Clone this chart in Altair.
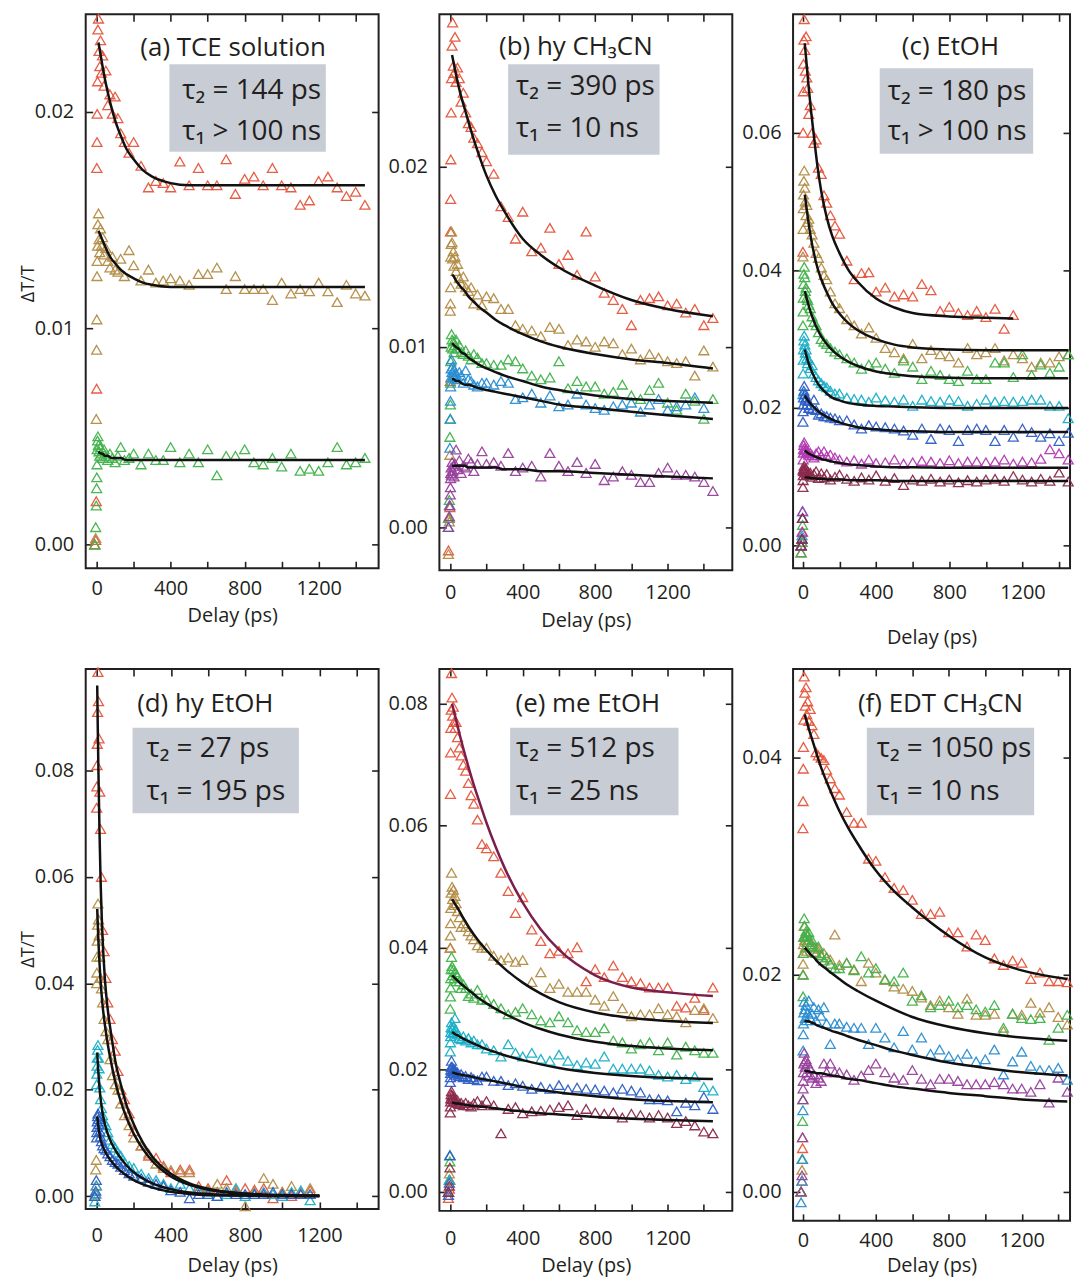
import altair as alt
import pandas as pd

FONT = "Open Sans"
INK = "#231f20"

# ---------------- shared delay grids (ps) ----------------
TIME = [-10, -5, -2, 0, 1, 2, 3, 5, 7, 10, 13, 17, 21, 26, 32, 40, 50, 60, 72, 85, 100, 115, 130, 150, 175,
        200, 240, 280, 320, 360, 400, 450, 500, 550, 600, 650, 700, 750, 800, 850, 900, 950, 1000,
        1050, 1100, 1150, 1200, 1250, 1300, 1350, 1400, 1450]
FIT_T = [10, 20, 30, 45, 60, 80, 100, 130, 160, 200, 250, 300, 400, 500, 600, 800, 1000, 1200, 1450]
FIT_T_C = [10, 20, 30, 45, 60, 80, 100, 130, 160, 200, 250, 300, 400, 500, 600, 800, 1000, 1150, 1450]
FIT_T_D = [3, 6, 10, 15, 20, 30, 45, 60, 80, 100, 130, 160, 200, 250, 300, 400, 500, 600, 800, 1000, 1200]
X_LABELS = [0, 400, 800, 1200]
X_TICKS = [0, 200, 400, 600, 800, 1000, 1200, 1400]

# ---------------- (a) TCE solution ----------------
A_RED = [0.0000, 0.0002, 0.0020, 0.0072, 0.0174, 0.0186, 0.0199, 0.0214, 0.0238, 0.0243, 0.0228, 0.0221, 0.0233, 0.0218, 0.0226, 0.0212, 0.0219, 0.0203, 0.0208, 0.0199, 0.0207, 0.0197, 0.0190, 0.0186, 0.0181] + \
        [0.0186, 0.0175, 0.0165, 0.0168, 0.0167, 0.0165, 0.0177, 0.0166, 0.0174, 0.0166, 0.0166, 0.0178, 0.0162, 0.0169, 0.0170, 0.0166, 0.0174, 0.0166, 0.0165, 0.0157, 0.0159, 0.0168, 0.0170, 0.0165, 0.0161, 0.0163, 0.0157]
A_TAN = [0.0000, 0.0003, 0.0058, 0.0090, 0.0104, 0.0124, 0.0131, 0.0138, 0.0148, 0.0153, 0.0141, 0.0135, 0.0146, 0.0138, 0.0142, 0.0134, 0.0137, 0.0131, 0.0128, 0.0133, 0.0127, 0.0126, 0.0132, 0.0124, 0.0136] + \
        [0.0129, 0.0122, 0.0127, 0.0121, 0.0122, 0.0123, 0.0122, 0.0120, 0.0125, 0.0125, 0.0128, 0.0118, 0.0124, 0.0118, 0.0118, 0.0118, 0.0113, 0.0121, 0.0116, 0.0118, 0.0117, 0.0121, 0.0117, 0.0112, 0.0120, 0.0116, 0.0115]
A_GREEN = [0.0000, 0.0008, 0.0018, 0.0026, 0.0031, 0.0037, 0.0044, 0.0048, 0.0050, 0.0046, 0.0043, 0.0041, 0.0045, 0.0042, 0.0040, 0.0044, 0.0041, 0.0039, 0.0042, 0.0040, 0.0038, 0.0041, 0.0045, 0.0039, 0.0040] + \
          [0.0042, 0.0037, 0.0042, 0.0039, 0.0039, 0.0045, 0.0038, 0.0042, 0.0038, 0.0044, 0.0032, 0.0041, 0.0041, 0.0044, 0.0038, 0.0037, 0.0040, 0.0036, 0.0042, 0.0034, 0.0035, 0.0034, 0.0038, 0.0045, 0.0037, 0.0038, 0.0040]
A_FIT_RED = [0.0232, 0.0227, 0.0222, 0.0215, 0.0209, 0.0202, 0.0196, 0.0189, 0.0183, 0.0178, 0.0173, 0.0170, 0.0167, 0.0166, 0.0166, 0.0166, 0.0166, 0.0166, 0.0166]
A_FIT_TAN = [0.0145, 0.0143, 0.0141, 0.0138, 0.0135, 0.0132, 0.0130, 0.0127, 0.0125, 0.0123, 0.0121, 0.0120, 0.0119, 0.0119, 0.0119, 0.0119, 0.0119, 0.0119, 0.0119]
A_FIT_GREEN = [0.0043, 0.0042, 0.0042, 0.0041, 0.0041, 0.0040, 0.0040, 0.0040, 0.0039, 0.0039, 0.0039, 0.0039, 0.0039, 0.0039, 0.0039, 0.0039, 0.0039, 0.0039, 0.0039]

# ---------------- (b) hy CH3CN ----------------
B_RED = [-0.0013, 0.0005, 0.0011, 0.0081, 0.0164, 0.0182, 0.0204, 0.0230, 0.0249, 0.0267, 0.0280, 0.0256, 0.0252, 0.0272, 0.0247, 0.0255, 0.0249, 0.0236, 0.0241, 0.0230, 0.0224, 0.0222, 0.0216, 0.0213, 0.0208] + \
        [0.0203, 0.0196, 0.0178, 0.0172, 0.0160, 0.0175, 0.0153, 0.0155, 0.0166, 0.0146, 0.0151, 0.0140, 0.0164, 0.0139, 0.0130, 0.0126, 0.0121, 0.0112, 0.0126, 0.0127, 0.0128, 0.0123, 0.0124, 0.0119, 0.0121, 0.0112, 0.0116]
B_TAN = [-0.0015, 0.0003, 0.0040, 0.0120, 0.0124, 0.0133, 0.0150, 0.0157, 0.0164, 0.0158, 0.0149, 0.0153, 0.0145, 0.0150, 0.0142, 0.0146, 0.0138, 0.0135, 0.0139, 0.0133, 0.0131, 0.0133, 0.0124, 0.0129, 0.0123] + \
        [0.0128, 0.0127, 0.0121, 0.0121, 0.0112, 0.0110, 0.0109, 0.0106, 0.0111, 0.0110, 0.0101, 0.0104, 0.0103, 0.0100, 0.0103, 0.0102, 0.0096, 0.0099, 0.0093, 0.0096, 0.0094, 0.0092, 0.0091, 0.0092, 0.0084, 0.0098, 0.0089]
B_GREEN = [0.0005, 0.0015, 0.0050, 0.0060, 0.0068, 0.0080, 0.0092, 0.0100, 0.0107, 0.0104, 0.0099, 0.0103, 0.0097, 0.0101, 0.0104, 0.0099, 0.0101, 0.0097, 0.0096, 0.0098, 0.0095, 0.0093, 0.0096, 0.0094, 0.0091] + \
          [0.0091, 0.0090, 0.0090, 0.0093, 0.0092, 0.0088, 0.0084, 0.0082, 0.0083, 0.0092, 0.0077, 0.0081, 0.0078, 0.0078, 0.0074, 0.0075, 0.0079, 0.0073, 0.0071, 0.0076, 0.0080, 0.0069, 0.0065, 0.0074, 0.0070, 0.0060, 0.0071]
B_SKY = [0.0000, 0.0012, 0.0044, 0.0060, 0.0070, 0.0078, 0.0083, 0.0088, 0.0093, 0.0086, 0.0089, 0.0084, 0.0087, 0.0083, 0.0085, 0.0082, 0.0086, 0.0084, 0.0080, 0.0087, 0.0082, 0.0081, 0.0079, 0.0078, 0.0080] + \
        [0.0080, 0.0079, 0.0081, 0.0080, 0.0071, 0.0072, 0.0074, 0.0069, 0.0073, 0.0067, 0.0068, 0.0074, 0.0068, 0.0066, 0.0065, 0.0067, 0.0068, 0.0069, 0.0064, 0.0068, 0.0071, 0.0065, 0.0067, 0.0068, 0.0072, 0.0066]
B_PURPLE = [0.0000, 0.0006, 0.0012, 0.0018, 0.0022, 0.0027, 0.0030, 0.0033, 0.0029, 0.0036, 0.0031, 0.0034, 0.0028, 0.0035, 0.0043, 0.0032, 0.0037, 0.0030, 0.0034, 0.0033, 0.0038, 0.0036, 0.0031, 0.0035, 0.0042] + \
           [0.0035, 0.0036, 0.0034, 0.0041, 0.0031, 0.0033, 0.0034, 0.0028, 0.0041, 0.0034, 0.0031, 0.0036, 0.0030, 0.0035, 0.0026, 0.0028, 0.0031, 0.0029, 0.0025, 0.0025, 0.0030, 0.0033, 0.0029, 0.0029, 0.0028, 0.0025, 0.0020]
B_FIT_RED = [0.0262, 0.0257, 0.0252, 0.0245, 0.0239, 0.0232, 0.0225, 0.0215, 0.0206, 0.0195, 0.0184, 0.0175, 0.0160, 0.0151, 0.0144, 0.0134, 0.0126, 0.0121, 0.0117]
B_FIT_TAN = [0.0140, 0.0139, 0.0137, 0.0135, 0.0133, 0.0131, 0.0128, 0.0125, 0.0122, 0.0119, 0.0115, 0.0112, 0.0107, 0.0103, 0.0100, 0.0096, 0.0093, 0.0091, 0.0088]
B_FIT_GREEN = [0.0102, 0.0101, 0.0100, 0.0099, 0.0097, 0.0096, 0.0094, 0.0092, 0.0090, 0.0088, 0.0086, 0.0084, 0.0081, 0.0078, 0.0076, 0.0073, 0.0071, 0.0070, 0.0069]
B_FIT_SKY = [0.0082, 0.0082, 0.0081, 0.0081, 0.0080, 0.0079, 0.0079, 0.0078, 0.0077, 0.0076, 0.0075, 0.0074, 0.0072, 0.0070, 0.0068, 0.0066, 0.0064, 0.0062, 0.0060]
B_FIT_PURPLE = [0.0034, 0.0034, 0.0034, 0.0034, 0.0034, 0.0034, 0.0033, 0.0033, 0.0033, 0.0033, 0.0033, 0.0032, 0.0032, 0.0031, 0.0031, 0.0030, 0.0029, 0.0028, 0.0027]

# ---------------- (c) EtOH ----------------
C_RED = [-0.0010, 0.0005, 0.0020, 0.0427, 0.0600, 0.0660, 0.0700, 0.0735, 0.0765, 0.0720, 0.0690, 0.0740, 0.0680, 0.0665, 0.0627, 0.0640, 0.0600, 0.0585, 0.0590, 0.0549, 0.0540, 0.0509, 0.0498, 0.0480, 0.0465] + \
        [0.0453, 0.0414, 0.0387, 0.0396, 0.0397, 0.0369, 0.0375, 0.0362, 0.0365, 0.0362, 0.0380, 0.0371, 0.0341, 0.0347, 0.0338, 0.0335, 0.0341, 0.0332, 0.0344, 0.0315, 0.0335]
C_TAN = [0.0000, 0.0010, 0.0040, 0.0420, 0.0460, 0.0490, 0.0510, 0.0530, 0.0545, 0.0520, 0.0500, 0.0480, 0.0495, 0.0470, 0.0475, 0.0460, 0.0452, 0.0440, 0.0425, 0.0418, 0.0404, 0.0393, 0.0387, 0.0369, 0.0352] + \
        [0.0345, 0.0329, 0.0320, 0.0308, 0.0317, 0.0302, 0.0287, 0.0281, 0.0272, 0.0293, 0.0272, 0.0284, 0.0278, 0.0275, 0.0266, 0.0287, 0.0278, 0.0281, 0.0287, 0.0269, 0.0278, 0.0272, 0.0260, 0.0266, 0.0266, 0.0275, 0.0278]
C_GREEN = [-0.0010, 0.0005, 0.0030, 0.0320, 0.0340, 0.0360, 0.0380, 0.0395, 0.0405, 0.0390, 0.0370, 0.0375, 0.0360, 0.0357, 0.0350, 0.0345, 0.0333, 0.0325, 0.0320, 0.0310, 0.0300, 0.0296, 0.0293, 0.0287, 0.0282] + \
          [0.0278, 0.0272, 0.0266, 0.0257, 0.0263, 0.0266, 0.0257, 0.0251, 0.0269, 0.0260, 0.0242, 0.0254, 0.0248, 0.0242, 0.0239, 0.0254, 0.0242, 0.0242, 0.0266, 0.0266, 0.0245, 0.0278, 0.0248, 0.0263, 0.0251, 0.0260, 0.0278]
C_CYAN = [0.0000, 0.0015, 0.0050, 0.0220, 0.0250, 0.0270, 0.0285, 0.0298, 0.0305, 0.0292, 0.0280, 0.0285, 0.0272, 0.0265, 0.0270, 0.0258, 0.0262, 0.0250, 0.0245, 0.0240, 0.0236, 0.0232, 0.0230, 0.0225, 0.0221] + \
         [0.0221, 0.0215, 0.0213, 0.0212, 0.0209, 0.0215, 0.0211, 0.0209, 0.0212, 0.0203, 0.0212, 0.0210, 0.0209, 0.0212, 0.0210, 0.0203, 0.0206, 0.0212, 0.0209, 0.0210, 0.0209, 0.0210, 0.0212, 0.0212, 0.0203, 0.0203, 0.0185]
C_BLUE = [0.0000, 0.0010, 0.0040, 0.0180, 0.0195, 0.0205, 0.0215, 0.0225, 0.0232, 0.0220, 0.0212, 0.0215, 0.0205, 0.0210, 0.0200, 0.0204, 0.0198, 0.0212, 0.0197, 0.0190, 0.0192, 0.0188, 0.0188, 0.0186, 0.0185] + \
         [0.0182, 0.0182, 0.0176, 0.0170, 0.0175, 0.0173, 0.0172, 0.0170, 0.0167, 0.0161, 0.0170, 0.0155, 0.0170, 0.0168, 0.0152, 0.0168, 0.0170, 0.0168, 0.0152, 0.0168, 0.0158, 0.0170, 0.0165, 0.0158, 0.0163, 0.0152, 0.0164]
C_MAGENTA = [0.0000, 0.0020, 0.0050, 0.0110, 0.0125, 0.0135, 0.0140, 0.0146, 0.0150, 0.0142, 0.0138, 0.0140, 0.0134, 0.0137, 0.0132, 0.0135, 0.0131, 0.0128, 0.0134, 0.0137, 0.0131, 0.0137, 0.0130, 0.0132, 0.0128] + \
            [0.0125, 0.0122, 0.0124, 0.0119, 0.0125, 0.0120, 0.0121, 0.0125, 0.0119, 0.0121, 0.0123, 0.0122, 0.0120, 0.0124, 0.0120, 0.0122, 0.0122, 0.0121, 0.0122, 0.0125, 0.0119, 0.0122, 0.0121, 0.0126, 0.0140, 0.0134, 0.0125]
C_MAROON = [0.0000, 0.0010, 0.0040, 0.0085, 0.0095, 0.0102, 0.0108, 0.0112, 0.0116, 0.0110, 0.0106, 0.0112, 0.0104, 0.0108, 0.0102, 0.0106, 0.0100, 0.0104, 0.0108, 0.0098, 0.0105, 0.0099, 0.0104, 0.0096, 0.0100] + \
           [0.0103, 0.0097, 0.0094, 0.0099, 0.0096, 0.0102, 0.0094, 0.0098, 0.0088, 0.0096, 0.0094, 0.0097, 0.0093, 0.0096, 0.0092, 0.0095, 0.0093, 0.0096, 0.0097, 0.0094, 0.0101, 0.0096, 0.0093, 0.0097, 0.0094, 0.0106, 0.0093]
C_FIT_RED = [0.0730, 0.0700, 0.0670, 0.0630, 0.0595, 0.0550, 0.0515, 0.0477, 0.0450, 0.0425, 0.0400, 0.0383, 0.0359, 0.0346, 0.0338, 0.0333, 0.0331, 0.0330]
C_FIT_TAN = [0.0510, 0.0490, 0.0470, 0.0445, 0.0425, 0.0403, 0.0387, 0.0368, 0.0352, 0.0337, 0.0323, 0.0313, 0.0300, 0.0292, 0.0288, 0.0285, 0.0284, 0.0284, 0.0284]
C_FIT_GREEN = [0.0370, 0.0360, 0.0350, 0.0337, 0.0326, 0.0314, 0.0304, 0.0293, 0.0284, 0.0275, 0.0267, 0.0261, 0.0253, 0.0249, 0.0246, 0.0244, 0.0243, 0.0243, 0.0243]
C_FIT_CYAN = [0.0285, 0.0275, 0.0266, 0.0255, 0.0246, 0.0236, 0.0229, 0.0221, 0.0215, 0.0211, 0.0207, 0.0205, 0.0203, 0.0202, 0.0201, 0.0200, 0.0200, 0.0200, 0.0200]
C_FIT_BLUE = [0.0218, 0.0214, 0.0210, 0.0205, 0.0201, 0.0196, 0.0192, 0.0187, 0.0183, 0.0179, 0.0175, 0.0172, 0.0169, 0.0167, 0.0166, 0.0165, 0.0165, 0.0165, 0.0165]
C_FIT_MAGENTA = [0.0138, 0.0136, 0.0134, 0.0132, 0.0130, 0.0128, 0.0126, 0.0124, 0.0122, 0.0120, 0.0118, 0.0117, 0.0115, 0.0114, 0.0114, 0.0113, 0.0113, 0.0113, 0.0113]
C_FIT_MAROON = [0.0100, 0.0099, 0.0099, 0.0098, 0.0098, 0.0097, 0.0097, 0.0096, 0.0096, 0.0096, 0.0095, 0.0095, 0.0095, 0.0094, 0.0094, 0.0094, 0.0094, 0.0094, 0.0094]

# ---------------- (d) hy EtOH ----------------
D_RED = [0.0000, 0.0005, 0.0020, 0.0730, 0.0770, 0.0810, 0.0850, 0.0910, 0.0985, 0.0930, 0.0860, 0.0760, 0.0690, 0.0600, 0.0500, 0.0460, 0.0410, 0.0364, 0.0333, 0.0295, 0.0273, 0.0235, 0.0200, 0.0182, 0.0155] + \
        [0.0122, 0.0095, 0.0076, 0.0072, 0.0057, 0.0045, 0.0050, 0.0050, 0.0019, 0.0015, 0.0008, 0.0030, 0.0011, 0.0015, 0.0012, 0.0015, -0.0004, 0.0008, 0.0000, 0.0004, 0.0011]
D_TAN = [0.0000, 0.0050, 0.0068, 0.0400, 0.0420, 0.0450, 0.0480, 0.0510, 0.0550, 0.0520, 0.0490, 0.0450, 0.0410, 0.0390, 0.0364, 0.0333, 0.0310, 0.0295, 0.0257, 0.0227, 0.0210, 0.0200, 0.0174, 0.0152, 0.0133] + \
        [0.0110, 0.0095, 0.0080, 0.0061, 0.0053, 0.0049, 0.0045, 0.0045, 0.0011, 0.0011, 0.0023, 0.0015, 0.0008, -0.0019, 0.0008, 0.0034, 0.0023, 0.0008, 0.0019, 0.0008, 0.0015]
D_CYAN = [-0.0010, 0.0005, 0.0020, 0.0210, 0.0230, 0.0245, 0.0260, 0.0275, 0.0284, 0.0260, 0.0240, 0.0204, 0.0182, 0.0165, 0.0152, 0.0140, 0.0133, 0.0120, 0.0106, 0.0098, 0.0091, 0.0082, 0.0076, 0.0064, 0.0057] + \
         [0.0053, 0.0042, 0.0034, 0.0030, 0.0023, 0.0015, 0.0023, 0.0015, 0.0012, 0.0008, 0.0000, 0.0004, 0.0015, 0.0000, 0.0004, 0.0008, 0.0004, 0.0000, 0.0008, 0.0011, -0.0008]
D_BLUE = [0.0000, 0.0010, 0.0030, 0.0110, 0.0120, 0.0130, 0.0140, 0.0150, 0.0155, 0.0145, 0.0135, 0.0122, 0.0112, 0.0103, 0.0095, 0.0090, 0.0087, 0.0080, 0.0075, 0.0068, 0.0064, 0.0061, 0.0055, 0.0049, 0.0043] + \
         [0.0038, 0.0034, 0.0027, 0.0023, 0.0019, 0.0011, 0.0008, -0.0004, 0.0004, 0.0004, 0.0000, 0.0008, 0.0004, 0.0004, 0.0004, 0.0004, 0.0008, 0.0004, 0.0004, 0.0004, 0.0004]
D_FIT_RED = [0.0960, 0.0880, 0.0790, 0.0690, 0.0610, 0.0500, 0.0405, 0.0350, 0.0300, 0.0255, 0.0210, 0.0172, 0.0135, 0.0100, 0.0074, 0.0042, 0.0024, 0.0014, 0.0005, 0.0002, 0.0001]
D_FIT_TAN = [0.0540, 0.0510, 0.0475, 0.0440, 0.0410, 0.0365, 0.0320, 0.0285, 0.0248, 0.0215, 0.0178, 0.0148, 0.0117, 0.0088, 0.0066, 0.0037, 0.0021, 0.0012, 0.0004, 0.0001, 0.0000]
D_FIT_CYAN = [0.0270, 0.0250, 0.0228, 0.0205, 0.0187, 0.0160, 0.0134, 0.0117, 0.0100, 0.0087, 0.0071, 0.0058, 0.0045, 0.0033, 0.0024, 0.0013, 0.0007, 0.0004, 0.0001, 0.0000, 0.0000]
D_FIT_BLUE = [0.0150, 0.0140, 0.0128, 0.0117, 0.0108, 0.0096, 0.0084, 0.0075, 0.0065, 0.0057, 0.0047, 0.0039, 0.0030, 0.0022, 0.0016, 0.0008, 0.0004, 0.0002, 0.0001, 0.0000, 0.0000]

# ---------------- (e) me EtOH ----------------
E_RED = [-0.0010, 0.0005, 0.0020, 0.0400, 0.0652, 0.0720, 0.0760, 0.0790, 0.0850, 0.0810, 0.0780, 0.0795, 0.0770, 0.0760, 0.0770, 0.0745, 0.0728, 0.0715, 0.0700, 0.0690, 0.0670, 0.0650, 0.0636, 0.0610, 0.0570] + \
        [0.0563, 0.0550, 0.0523, 0.0493, 0.0457, 0.0483, 0.0430, 0.0411, 0.0391, 0.0395, 0.0391, 0.0401, 0.0345, 0.0365, 0.0352, 0.0371, 0.0352, 0.0345, 0.0342, 0.0335, 0.0335, 0.0335, 0.0305, 0.0302, 0.0318, 0.0298, 0.0335]
E_TAN = [0.0000, 0.0030, 0.0060, 0.0400, 0.0420, 0.0440, 0.0465, 0.0490, 0.0523, 0.0500, 0.0480, 0.0495, 0.0470, 0.0485, 0.0473, 0.0460, 0.0450, 0.0434, 0.0440, 0.0434, 0.0427, 0.0420, 0.0414, 0.0404, 0.0400] + \
        [0.0400, 0.0387, 0.0380, 0.0384, 0.0377, 0.0380, 0.0344, 0.0360, 0.0334, 0.0341, 0.0328, 0.0328, 0.0328, 0.0315, 0.0305, 0.0321, 0.0301, 0.0288, 0.0291, 0.0291, 0.0301, 0.0291, 0.0288, 0.0278, 0.0298, 0.0301, 0.0285]
E_GREEN = [0.0000, 0.0020, 0.0050, 0.0300, 0.0320, 0.0335, 0.0350, 0.0365, 0.0385, 0.0370, 0.0355, 0.0365, 0.0350, 0.0360, 0.0345, 0.0354, 0.0345, 0.0334, 0.0340, 0.0334, 0.0321, 0.0325, 0.0318, 0.0331, 0.0315] + \
          [0.0315, 0.0308, 0.0301, 0.0291, 0.0295, 0.0301, 0.0291, 0.0281, 0.0278, 0.0288, 0.0278, 0.0265, 0.0262, 0.0262, 0.0268, 0.0248, 0.0245, 0.0235, 0.0242, 0.0245, 0.0232, 0.0245, 0.0225, 0.0238, 0.0232, 0.0228, 0.0228]
E_CYAN = [0.0000, 0.0020, 0.0060, 0.0230, 0.0245, 0.0255, 0.0262, 0.0270, 0.0278, 0.0268, 0.0260, 0.0270, 0.0262, 0.0285, 0.0265, 0.0258, 0.0252, 0.0250, 0.0255, 0.0248, 0.0252, 0.0245, 0.0248, 0.0242, 0.0242] + \
         [0.0235, 0.0232, 0.0222, 0.0242, 0.0228, 0.0222, 0.0228, 0.0218, 0.0215, 0.0225, 0.0215, 0.0208, 0.0212, 0.0210, 0.0222, 0.0202, 0.0202, 0.0202, 0.0202, 0.0199, 0.0192, 0.0189, 0.0192, 0.0185, 0.0189, 0.0172, 0.0166]
E_BLUE = [-0.0005, 0.0015, 0.0060, 0.0180, 0.0188, 0.0195, 0.0200, 0.0205, 0.0215, 0.0205, 0.0198, 0.0202, 0.0195, 0.0200, 0.0192, 0.0196, 0.0190, 0.0193, 0.0188, 0.0190, 0.0185, 0.0188, 0.0185, 0.0183, 0.0189] + \
         [0.0189, 0.0182, 0.0182, 0.0175, 0.0178, 0.0174, 0.0169, 0.0172, 0.0169, 0.0175, 0.0168, 0.0171, 0.0169, 0.0168, 0.0166, 0.0163, 0.0169, 0.0166, 0.0163, 0.0152, 0.0152, 0.0150, 0.0132, 0.0146, 0.0142, 0.0156, 0.0136]
E_MAROON = [0.0000, 0.0010, 0.0040, 0.0130, 0.0140, 0.0148, 0.0153, 0.0160, 0.0165, 0.0158, 0.0152, 0.0156, 0.0148, 0.0152, 0.0146, 0.0150, 0.0144, 0.0146, 0.0142, 0.0146, 0.0142, 0.0140, 0.0145, 0.0149, 0.0142] + \
           [0.0149, 0.0142, 0.0096, 0.0136, 0.0139, 0.0129, 0.0132, 0.0133, 0.0135, 0.0139, 0.0142, 0.0126, 0.0136, 0.0130, 0.0128, 0.0130, 0.0122, 0.0128, 0.0126, 0.0122, 0.0126, 0.0122, 0.0113, 0.0116, 0.0109, 0.0099, 0.0096]
E_FIT_RED = [0.0800, 0.0788, 0.0776, 0.0758, 0.0740, 0.0718, 0.0697, 0.0667, 0.0640, 0.0605, 0.0566, 0.0531, 0.0474, 0.0430, 0.0397, 0.0355, 0.0335, 0.0327, 0.0321]
E_FIT_TAN = [0.0480, 0.0475, 0.0470, 0.0463, 0.0455, 0.0445, 0.0435, 0.0422, 0.0410, 0.0396, 0.0380, 0.0366, 0.0343, 0.0325, 0.0311, 0.0294, 0.0285, 0.0280, 0.0277]
E_FIT_GREEN = [0.0355, 0.0352, 0.0349, 0.0345, 0.0341, 0.0336, 0.0331, 0.0324, 0.0317, 0.0309, 0.0300, 0.0292, 0.0278, 0.0267, 0.0258, 0.0246, 0.0239, 0.0235, 0.0232]
E_FIT_CYAN = [0.0262, 0.0260, 0.0258, 0.0256, 0.0253, 0.0250, 0.0247, 0.0243, 0.0239, 0.0234, 0.0229, 0.0224, 0.0216, 0.0209, 0.0203, 0.0195, 0.0190, 0.0187, 0.0185]
E_FIT_BLUE = [0.0196, 0.0195, 0.0194, 0.0193, 0.0192, 0.0191, 0.0190, 0.0188, 0.0186, 0.0184, 0.0181, 0.0178, 0.0172, 0.0167, 0.0163, 0.0157, 0.0152, 0.0149, 0.0147]
E_FIT_MAROON = [0.0146, 0.0146, 0.0145, 0.0145, 0.0144, 0.0143, 0.0142, 0.0141, 0.0140, 0.0139, 0.0137, 0.0135, 0.0132, 0.0129, 0.0127, 0.0123, 0.0120, 0.0118, 0.0116]

# ---------------- (f) EDT CH3CN ----------------
F_RED = [0.0000, 0.0010, 0.0040, 0.0335, 0.0360, 0.0390, 0.0410, 0.0435, 0.0475, 0.0460, 0.0448, 0.0465, 0.0440, 0.0452, 0.0434, 0.0445, 0.0430, 0.0422, 0.0405, 0.0402, 0.0400, 0.0398, 0.0389, 0.0381, 0.0372] + \
        [0.0366, 0.0350, 0.0340, 0.0340, 0.0307, 0.0305, 0.0290, 0.0280, 0.0278, 0.0269, 0.0256, 0.0256, 0.0258, 0.0239, 0.0239, 0.0226, 0.0237, 0.0232, 0.0215, 0.0209, 0.0213, 0.0211, 0.0196, 0.0202, 0.0194, 0.0194, 0.0193]
F_TAN = [0.0000, 0.0020, 0.0050, 0.0200, 0.0210, 0.0220, 0.0228, 0.0235, 0.0245, 0.0232, 0.0225, 0.0238, 0.0222, 0.0230, 0.0232, 0.0226, 0.0228, 0.0221, 0.0225, 0.0224, 0.0218, 0.0220, 0.0216, 0.0214, 0.0237] + \
        [0.0209, 0.0211, 0.0205, 0.0194, 0.0211, 0.0202, 0.0195, 0.0189, 0.0187, 0.0185, 0.0179, 0.0172, 0.0176, 0.0170, 0.0164, 0.0178, 0.0163, 0.0163, 0.0164, 0.0148, 0.0164, 0.0163, 0.0174, 0.0165, 0.0170, 0.0161, 0.0154]
F_GREEN = [0.0000, 0.0030, 0.0065, 0.0085, 0.0180, 0.0200, 0.0220, 0.0235, 0.0252, 0.0245, 0.0235, 0.0240, 0.0230, 0.0236, 0.0239, 0.0228, 0.0232, 0.0226, 0.0220, 0.0226, 0.0218, 0.0213, 0.0216, 0.0210, 0.0206] + \
          [0.0206, 0.0211, 0.0204, 0.0217, 0.0202, 0.0206, 0.0196, 0.0194, 0.0202, 0.0176, 0.0181, 0.0170, 0.0172, 0.0176, 0.0170, 0.0172, 0.0168, 0.0166, 0.0172, 0.0151, 0.0164, 0.0160, 0.0159, 0.0160, 0.0140, 0.0151, 0.0163]
F_SKY = [-0.0010, 0.0010, 0.0030, 0.0075, 0.0130, 0.0145, 0.0155, 0.0165, 0.0175, 0.0168, 0.0160, 0.0172, 0.0158, 0.0165, 0.0176, 0.0160, 0.0164, 0.0170, 0.0158, 0.0168, 0.0162, 0.0170, 0.0155, 0.0136, 0.0155] + \
        [0.0155, 0.0152, 0.0151, 0.0151, 0.0136, 0.0151, 0.0142, 0.0133, 0.0148, 0.0131, 0.0142, 0.0127, 0.0131, 0.0125, 0.0122, 0.0127, 0.0120, 0.0122, 0.0131, 0.0108, 0.0120, 0.0129, 0.0116, 0.0112, 0.0112, 0.0114, 0.0103]
F_PURPLE = [0.0000, 0.0015, 0.0050, 0.0085, 0.0095, 0.0102, 0.0110, 0.0118, 0.0128, 0.0120, 0.0115, 0.0122, 0.0110, 0.0118, 0.0107, 0.0113, 0.0105, 0.0108, 0.0100, 0.0105, 0.0102, 0.0118, 0.0110, 0.0118, 0.0110] + \
           [0.0110, 0.0108, 0.0103, 0.0107, 0.0112, 0.0118, 0.0110, 0.0105, 0.0103, 0.0112, 0.0104, 0.0099, 0.0104, 0.0104, 0.0102, 0.0099, 0.0099, 0.0099, 0.0101, 0.0099, 0.0095, 0.0095, 0.0092, 0.0099, 0.0082, 0.0105, 0.0092]
F_FIT_RED = [0.0440, 0.0434, 0.0428, 0.0420, 0.0412, 0.0401, 0.0391, 0.0378, 0.0366, 0.0351, 0.0335, 0.0321, 0.0296, 0.0277, 0.0262, 0.0236, 0.0216, 0.0204, 0.0196]
F_FIT_TAN = [0.0225, 0.0223, 0.0221, 0.0218, 0.0216, 0.0212, 0.0209, 0.0205, 0.0201, 0.0196, 0.0190, 0.0185, 0.0176, 0.0168, 0.0161, 0.0152, 0.0146, 0.0142, 0.0139]
F_FIT_SKY = [0.0158, 0.0157, 0.0157, 0.0156, 0.0155, 0.0153, 0.0152, 0.0150, 0.0148, 0.0146, 0.0143, 0.0140, 0.0135, 0.0130, 0.0126, 0.0119, 0.0114, 0.0110, 0.0107]
F_FIT_PURPLE = [0.0112, 0.0111, 0.0111, 0.0110, 0.0110, 0.0109, 0.0109, 0.0108, 0.0107, 0.0106, 0.0104, 0.0103, 0.0100, 0.0097, 0.0095, 0.0091, 0.0088, 0.0085, 0.0083]

# ---------------- styling ----------------
COLORS = {
    "red": "#e5563c", "tan": "#b38d45", "green": "#41b34b", "sky": "#2a8ed2",
    "purple": "#97409d", "cyan": "#1aafc7", "blue": "#2d5ec6", "magenta": "#b23ab3",
    "maroon": "#8b2a4c",
}
FIT_BLACK = "#111111"
FIT_MAROON = "#7a1e4c"
BOX_GREY = "#c8ccd4"

PANELS = [
    dict(title="(a) TCE solution", t2="τ₂ = 144 ps", t1="τ₁ > 100 ns",
         series=[("red", A_RED), ("tan", A_TAN), ("green", A_GREEN)],
         fits=[(FIT_BLACK, A_FIT_RED), (FIT_BLACK, A_FIT_TAN), (FIT_BLACK, A_FIT_GREEN)], fit_t=FIT_T,
         w=294, h=556, xdom=[-59, 1524], ydom=[-0.0011, 0.0245], yticks=[0.0, 0.01, 0.02],
         xlp=10.5, xty=47, ytitle=True, yty=270,
         tx=148, ty=34, box=(84, 241, 50, 138), bx=97, by=(77, 118)),
    dict(title="(b) hy CH₃CN", t2="τ₂ = 390 ps", t1="τ₁ = 10 ns",
         series=[("red", B_RED), ("tan", B_TAN), ("green", B_GREEN), ("sky", B_SKY), ("purple", B_PURPLE)],
         fits=[(FIT_BLACK, B_FIT_RED), (FIT_BLACK, B_FIT_TAN), (FIT_BLACK, B_FIT_GREEN),
               (FIT_BLACK, B_FIT_SKY), (FIT_BLACK, B_FIT_PURPLE)], fit_t=FIT_T,
         w=294, h=558, xdom=[-60, 1557], ydom=[-0.0024, 0.02845], yticks=[0.0, 0.01, 0.02],
         xlp=12.5, xty=50, ytitle=False, yty=0,
         tx=137, ty=33, box=(69, 221, 50, 141), bx=77, by=(73, 115)),
    dict(title="(c) EtOH", t2="τ₂ = 180 ps", t1="τ₁ > 100 ns",
         series=[("red", C_RED), ("tan", C_TAN), ("green", C_GREEN), ("cyan", C_CYAN),
                 ("blue", C_BLUE), ("magenta", C_MAGENTA), ("maroon", C_MAROON)],
         fits=[(FIT_BLACK, C_FIT_RED), (FIT_BLACK, C_FIT_TAN), (FIT_BLACK, C_FIT_GREEN), (FIT_BLACK, C_FIT_CYAN),
               (FIT_BLACK, C_FIT_BLUE), (FIT_BLACK, C_FIT_MAGENTA), (FIT_BLACK, C_FIT_MAROON)], fit_t=FIT_T_C,
         w=278, h=556, xdom=[-54, 1460], ydom=[-0.0033, 0.0772], yticks=[0.0, 0.02, 0.04, 0.06],
         xlp=14.5, xty=69, ytitle=False, yty=0,
         tx=158, ty=33, box=(87, 241, 54, 140), bx=95, by=(78, 118)),
    dict(title="(d) hy EtOH", t2="τ₂ = 27 ps", t1="τ₁ = 195 ps",
         series=[("red", D_RED), ("tan", D_TAN), ("cyan", D_CYAN), ("blue", D_BLUE)],
         fits=[(FIT_BLACK, D_FIT_RED), (FIT_BLACK, D_FIT_TAN), (FIT_BLACK, D_FIT_CYAN), (FIT_BLACK, D_FIT_BLUE)],
         fit_t=FIT_T_D,
         w=294, h=542, xdom=[-59, 1519], ydom=[-0.0024, 0.0991], yticks=[0.0, 0.02, 0.04, 0.06, 0.08],
         xlp=16.5, xty=57, ytitle=True, yty=281,
         tx=120, ty=35, box=(47, 214, 59, 145), bx=61, by=(80, 124)),
    dict(title="(e) me EtOH", t2="τ₂ = 512 ps", t1="τ₁ = 25 ns",
         series=[("red", E_RED), ("tan", E_TAN), ("green", E_GREEN), ("cyan", E_CYAN),
                 ("blue", E_BLUE), ("maroon", E_MAROON)],
         fits=[(FIT_MAROON, E_FIT_RED), (FIT_BLACK, E_FIT_TAN), (FIT_BLACK, E_FIT_GREEN),
               (FIT_BLACK, E_FIT_CYAN), (FIT_BLACK, E_FIT_BLUE), (FIT_BLACK, E_FIT_MAROON)], fit_t=FIT_T,
         w=294, h=544, xdom=[-60, 1557], ydom=[-0.0031, 0.0857], yticks=[0.0, 0.02, 0.04, 0.06, 0.08],
         xlp=17.5, xty=55, ytitle=False, yty=0,
         tx=149, ty=35, box=(71, 240, 59, 147), bx=77, by=(80, 124)),
    dict(title="(f) EDT CH₃CN", t2="τ₂ = 1050 ps", t1="τ₁ = 10 ns",
         series=[("red", F_RED), ("tan", F_TAN), ("green", F_GREEN), ("sky", F_SKY), ("purple", F_PURPLE)],
         fits=[(FIT_BLACK, F_FIT_RED), (FIT_BLACK, F_FIT_TAN), (FIT_BLACK, F_FIT_SKY), (FIT_BLACK, F_FIT_PURPLE)],
         fit_t=FIT_T,
         w=278, h=554, xdom=[-54, 1465], ydom=[-0.0027, 0.0482], yticks=[0.0, 0.02, 0.04],
         xlp=9.5, xty=45, ytitle=False, yty=0,
         tx=148, ty=35, box=(74, 242, 59, 147), bx=84, by=(80, 124)),
]


def make_panel(p):
    rows = []
    for name, vals in p["series"]:
        assert len(vals) <= len(TIME), name
        for t, v in zip(TIME, vals):
            rows.append({"t": t, "v": v, "s": name, "col": COLORS[name]})
    pts = pd.DataFrame(rows)

    frows = []
    for i, (col, vals) in enumerate(p["fits"]):
        assert len(vals) <= len(p["fit_t"])
        for t, v in zip(p["fit_t"], vals):
            frows.append({"t": t, "v": v, "s": "f%d" % i, "col": col})
    fits = pd.DataFrame(frows)

    xs = alt.Scale(domain=p["xdom"], nice=False, zero=False)
    ys = alt.Scale(domain=p["ydom"], nice=False, zero=False)

    x_main = alt.Axis(orient="bottom", values=X_LABELS, format="d", labelFont=FONT, labelFontSize=20,
                      labelColor=INK, ticks=False, tickSize=0, domain=False, grid=False,
                      labelPadding=p["xlp"], labelFlush=False, title="Delay (ps)", titleFont=FONT,
                      titleFontSize=20, titleFontWeight="normal", titleColor=INK,
                      titleY=p["xty"], titleBaseline="middle", minExtent=0)
    if p["ytitle"]:
        y_main = alt.Axis(orient="left", values=p["yticks"], format=".2f", labelFont=FONT, labelFontSize=20,
                          labelColor=INK, ticks=False, tickSize=0, domain=False, grid=False,
                          labelPadding=12, title="ΔT/T", titleFont=FONT, titleFontSize=18,
                          titleFontWeight="normal", titleColor=INK, titleX=-57, titleY=p["yty"],
                          titleBaseline="middle", titleAngle=270, minExtent=0)
    else:
        y_main = alt.Axis(orient="left", values=p["yticks"], format=".2f", labelFont=FONT, labelFontSize=20,
                          labelColor=INK, ticks=False, tickSize=0, domain=False, grid=False,
                          labelPadding=12, title=None, minExtent=0)

    def tick_axis(orient, vals):
        return alt.Axis(orient=orient, values=vals, labels=False, domain=False, grid=False, ticks=True,
                        tickSize=7, tickWidth=1.6, tickColor=INK, offset=-7, title=None,
                        minExtent=0, maxExtent=7)

    pts_layer = alt.Chart(pts).mark_point(shape="triangle-up", filled=False, size=100,
                                           strokeWidth=1.3, opacity=0.95).encode(
        x=alt.X("t:Q", scale=xs, axis=x_main),
        y=alt.Y("v:Q", scale=ys, axis=y_main),
        color=alt.Color("col:N", scale=None),
        detail="s:N",
    )
    fit_layer = alt.Chart(fits).mark_line(strokeWidth=2.5, interpolate="monotone").encode(
        x=alt.X("t:Q", scale=xs, axis=tick_axis("bottom", X_TICKS)),
        y=alt.Y("v:Q", scale=ys, axis=tick_axis("left", p["yticks"])),
        color=alt.Color("col:N", scale=None),
        detail="s:N",
    )
    frame_layer = alt.Chart(fits).mark_line(opacity=0).encode(
        x=alt.X("t:Q", scale=xs, axis=tick_axis("top", X_TICKS)),
        y=alt.Y("v:Q", scale=ys, axis=tick_axis("right", p["yticks"])),
        detail="s:N",
    )

    one = pd.DataFrame({"k": [0]})
    x0, x1, y0, y1 = p["box"]
    box = alt.Chart(one).mark_rect(color=BOX_GREY).encode(
        x=alt.value(x0), x2=alt.value(x1), y=alt.value(y0), y2=alt.value(y1))
    title = alt.Chart(one).mark_text(text=p["title"], font=FONT, fontSize=26, color=INK,
                                     align="center", baseline="middle").encode(
        x=alt.value(p["tx"]), y=alt.value(p["ty"]))
    tau2 = alt.Chart(one).mark_text(text=p["t2"], font=FONT, fontSize=28, color=INK,
                                    align="left", baseline="middle").encode(
        x=alt.value(p["bx"]), y=alt.value(p["by"][0]))
    tau1 = alt.Chart(one).mark_text(text=p["t1"], font=FONT, fontSize=28, color=INK,
                                    align="left", baseline="middle").encode(
        x=alt.value(p["bx"]), y=alt.value(p["by"][1]))

    return alt.layer(box, pts_layer, fit_layer, frame_layer, title, tau2, tau1).resolve_axis(
        x="independent", y="independent").properties(width=p["w"], height=p["h"])


panels = [make_panel(p) for p in PANELS]
row1 = alt.hconcat(*panels[:3], spacing=6)
row2 = alt.hconcat(*panels[3:], spacing=6)

chart = alt.vconcat(row1, row2, spacing=16).properties(
    padding={"left": 11, "top": 0, "right": 0, "bottom": 0}
).configure_view(stroke=INK, strokeWidth=2)

chart.save("out.html", embed_options={"renderer": "svg", "actions": False})
